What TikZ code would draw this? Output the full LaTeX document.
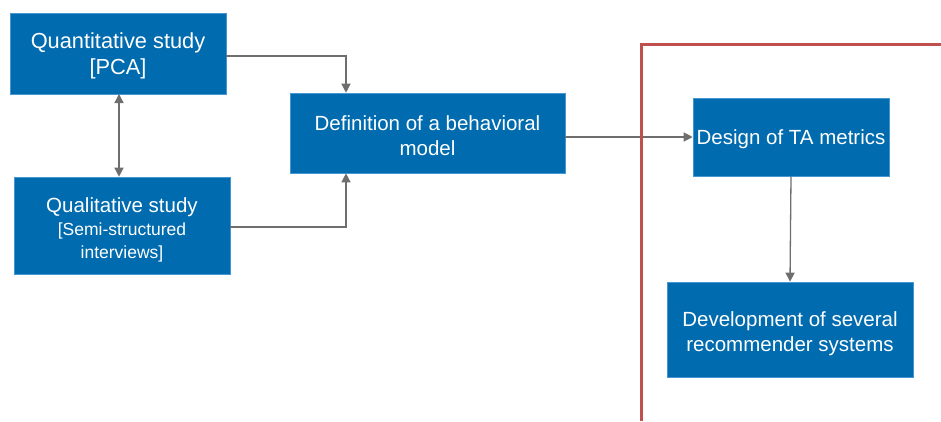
\documentclass[tikz,border=0pt]{standalone}
\usepackage{fontspec}
\setmainfont{Liberation Sans}
\usetikzlibrary{arrows.meta}
\definecolor{boxblue}{RGB}{0,107,174}
\definecolor{boxedge}{RGB}{70,150,210}
\definecolor{linegray}{RGB}{110,110,110}
\definecolor{framered}{RGB}{192,80,77}
\tikzset{
  bluebox/.style={rectangle, fill=boxblue, draw=boxedge, line width=0.6pt, inner sep=0pt},
  boxtext/.style={text=white, align=center, inner sep=0pt, font=\fontsize{20.5}{25}\selectfont},
  conn/.style={draw=linegray, line width=1.3pt, -{Triangle[length=9pt,width=9pt]}},
  conn2/.style={draw=linegray, line width=1.3pt, {Triangle[length=9pt,width=9pt]}-{Triangle[length=9pt,width=9pt]}},
}
\begin{document}
\begin{tikzpicture}[x=1pt,y=-1pt]
\useasboundingbox (0,0) rectangle (941,421);
\node[bluebox, minimum width=216pt, minimum height=81pt] (quant) at (118,53.5) {};
\node[boxtext, font=\fontsize{21.8}{26}\selectfont] (quantt) at ([yshift=-2.5pt]quant.center) {Quantitative study\\{}[PCA]};
\node[bluebox, minimum width=216pt, minimum height=97pt] (qual) at (122,225.5) {};
\node[boxtext] (qualt) at ([yshift=-4.5pt]qual.center) {Qualitative study\\[-2pt]{\fontsize{17.5}{22}\selectfont [Semi-structured}\\[-2pt]{\fontsize{17.5}{22}\selectfont interviews]}};
\node[bluebox, minimum width=275pt, minimum height=80pt] (def) at (427.5,133) {};
\node[boxtext] (deft) at ([yshift=-3pt]def.center) {Definition of a behavioral\\model};
\node[bluebox, minimum width=196pt, minimum height=78pt] (design) at (791,137) {};
\node[boxtext] (designt) at ([yshift=-2pt]design.center) {Design of TA metrics};
\node[bluebox, minimum width=246pt, minimum height=95pt] (dev) at (790,329.5) {};
\node[boxtext] (devt) at ([yshift=-4.5pt]dev.center) {Development of several\\recommender systems};
\coordinate (c1) at (346,56);
\coordinate (c2) at (346,227);
\draw[conn] (quant.east |- c1) -- (c1) -- (c1 |- def.north);
\draw[conn] (qual.east |- c2) -- (c2) -- (c2 |- def.south);
\draw[conn2] (119,94) coordinate (q1) -- (q1 |- qual.north);
\draw[conn] (def.east |- design.west) -- (design.west);
\draw[conn] (design.south) -- (dev.north);
\coordinate (r1) at (641,421);
\coordinate (r2) at (641,44);
\coordinate (r3) at (941,44);
\draw[framered, line width=3pt] (r1) -- (r2) -- (r3);
\end{tikzpicture}
\end{document}
